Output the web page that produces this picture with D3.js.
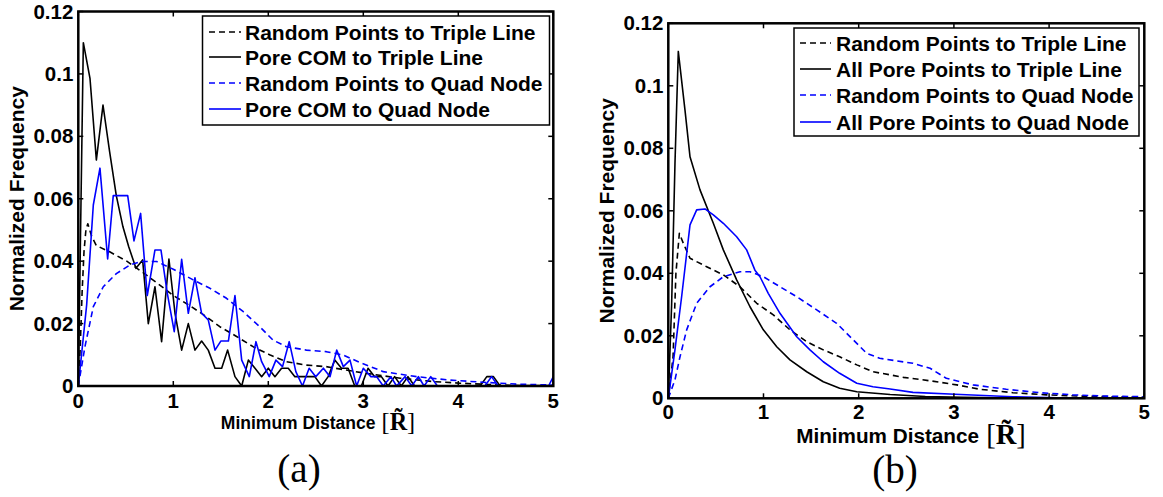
<!DOCTYPE html>
<html>
<head>
<meta charset="utf-8">
<script src="https://cdn.jsdelivr.net/npm/d3@7"></script>
<style>
  html, body { margin: 0; padding: 0; background: #fff; }
  svg { display: block; }
</style>
</head>
<body>
<svg id="fig" width="1163" height="497"></svg>
<script>
// ---- tick labels ----
const xTicks = [0, 1, 2, 3, 4, 5];
const yTicks = [0, 0.02, 0.04, 0.06, 0.08, 0.1, 0.12];
const yTickLabels = ["0", "0.02", "0.04", "0.06", "0.08", "0.1", "0.12"];

// ---- panel (a): pore centres of mass ----
const aTripleRandomX = [0, 0.02, 0.04, 0.06, 0.08, 0.1, 0.14, 0.19, 0.33, 0.51, 0.67, 0.83, 1.0, 1.16, 1.32, 1.49, 1.67, 1.84, 2.02, 2.19, 2.4, 2.61, 2.82, 3.04, 3.39, 3.74, 4.02, 4.3, 4.58, 5.0];
const aTripleRandomY = [0, 0.012, 0.03, 0.043, 0.05, 0.052, 0.048, 0.045, 0.043, 0.040, 0.0366, 0.033, 0.029, 0.026, 0.0228, 0.019, 0.0158, 0.0126, 0.0099, 0.0078, 0.0067, 0.0062, 0.0051, 0.004, 0.0025, 0.0014, 0.0009, 0.0005, 0.0002, 0.0001];

const aTripleComX = [0, 0.053, 0.123, 0.19, 0.26, 0.33, 0.40, 0.47, 0.53, 0.607, 0.677, 0.737, 0.807, 0.877, 0.954, 1.018, 1.088, 1.158, 1.228, 1.298, 1.368, 1.439, 1.509, 1.572, 1.649, 1.72, 1.79, 1.86, 1.93, 2.0, 2.07, 2.14, 2.21, 2.28, 2.35, 2.42, 2.49, 2.56, 2.63, 2.70, 2.77, 2.84, 2.91, 2.98, 3.05, 3.12, 3.19, 3.26, 3.33, 3.40, 3.47, 3.54, 4.23, 4.30, 4.37, 4.44, 5.0];
const aTripleComY = [0, 0.110, 0.0986, 0.0724, 0.090, 0.075, 0.061, 0.051, 0.0447, 0.0377, 0.0404, 0.020, 0.0318, 0.0142, 0.0407, 0.0233, 0.0115, 0.020, 0.0115, 0.0144, 0.0115, 0.0057, 0.0057, 0.0115, 0.003, 0, 0.0083, 0.0057, 0.003, 0.0057, 0.003, 0.0057, 0.0057, 0.003, 0.003, 0.003, 0.003, 0, 0.003, 0.0083, 0.0057, 0.0057, 0, 0, 0.0057, 0.003, 0.003, 0, 0.003, 0, 0.003, 0, 0, 0.003, 0.003, 0, 0];

const aQuadRandomX = [0, 0.07, 0.158, 0.263, 0.40, 0.544, 0.667, 0.825, 1.0, 1.21, 1.386, 1.56, 1.737, 1.91, 2.05, 2.19, 2.40, 2.61, 2.79, 2.96, 3.21, 3.56, 3.91, 4.26, 4.61, 5.0];
const aQuadRandomY = [0, 0.0126, 0.0254, 0.0318, 0.036, 0.0388, 0.0399, 0.0399, 0.0374, 0.034, 0.0313, 0.0281, 0.0238, 0.019, 0.0147, 0.0126, 0.0115, 0.011, 0.0099, 0.0076, 0.0046, 0.003, 0.0019, 0.0012, 0.0006, 0.0003];

const aQuadComX = [0, 0.088, 0.158, 0.228, 0.309, 0.368, 0.438, 0.52, 0.586, 0.656, 0.726, 0.807, 0.87, 0.937, 1.01, 1.088, 1.158, 1.228, 1.298, 1.368, 1.439, 1.50, 1.58, 1.649, 1.72, 1.8, 1.87, 1.93, 2.01, 2.08, 2.15, 2.22, 2.29, 2.36, 2.43, 2.50, 2.58, 2.65, 2.72, 2.79, 2.86, 2.93, 3.0, 3.08, 3.14, 3.21, 3.29, 3.35, 3.44, 3.51, 3.58, 3.64, 3.71, 3.78, 4.28, 4.35, 4.42, 4.95, 5.0];
const aQuadComY = [0, 0.026, 0.058, 0.0698, 0.0407, 0.061, 0.061, 0.061, 0.0465, 0.0553, 0.029, 0.0436, 0.0436, 0.0297, 0.0174, 0.0406, 0.0233, 0.0347, 0.0233, 0.0212, 0.0115, 0.0144, 0.0144, 0.029, 0.0083, 0.003, 0.0142, 0.0078, 0.003, 0.0083, 0.0062, 0.0142, 0.0046, 0, 0.0057, 0.003, 0.0057, 0.003, 0.0115, 0.0062, 0.0083, 0, 0.0057, 0.003, 0.003, 0, 0.003, 0, 0.003, 0, 0.003, 0, 0.003, 0, 0, 0.003, 0, 0, 0.003];

// ---- panel (b): all pore points ----
const bTripleRandomX = [0, 0.05, 0.08, 0.116, 0.158, 0.228, 0.403, 0.578, 0.753, 0.929, 1.103, 1.278, 1.454, 1.628, 1.80, 1.98, 2.15, 2.33, 2.47, 2.75, 3.03, 3.27, 3.62, 3.97, 4.32, 4.67, 5.0];
const bTripleRandomY = [0, 0.0133, 0.040, 0.0528, 0.0496, 0.0448, 0.0421, 0.0395, 0.0357, 0.0304, 0.0267, 0.0219, 0.0181, 0.0155, 0.0133, 0.0107, 0.0085, 0.0075, 0.0067, 0.0056, 0.0043, 0.0029, 0.0018, 0.0011, 0.0007, 0.0005, 0.0003];

const bTripleAllX = [0, 0.035, 0.07, 0.105, 0.175, 0.228, 0.333, 0.473, 0.578, 0.718, 0.858, 0.998, 1.139, 1.278, 1.454, 1.628, 1.80, 1.98, 2.33, 2.7, 3.1, 3.6, 4.2, 5.0];
const bTripleAllY = [0, 0.03, 0.075, 0.111, 0.0923, 0.0773, 0.0667, 0.056, 0.0475, 0.0379, 0.0293, 0.0219, 0.0165, 0.0123, 0.0085, 0.0053, 0.0032, 0.0021, 0.0012, 0.0006, 0.0003, 0.0001, 0, 0];

const bQuadRandomX = [0, 0.07, 0.123, 0.193, 0.298, 0.438, 0.578, 0.753, 0.858, 0.998, 1.173, 1.349, 1.559, 1.768, 1.943, 2.084, 2.22, 2.57, 2.75, 2.92, 3.20, 3.55, 3.90, 4.25, 4.6, 5.0];
const bQuadRandomY = [0, 0.0059, 0.0133, 0.0219, 0.0304, 0.0357, 0.0389, 0.0405, 0.0405, 0.0389, 0.0357, 0.0325, 0.0283, 0.024, 0.0187, 0.0144, 0.0128, 0.0112, 0.0096, 0.0064, 0.0043, 0.0029, 0.0018, 0.0011, 0.0007, 0.0005];

const bQuadAllX = [0, 0.07, 0.14, 0.228, 0.298, 0.385, 0.473, 0.578, 0.718, 0.823, 0.91, 0.963, 1.05, 1.173, 1.349, 1.488, 1.628, 1.80, 1.98, 2.15, 2.33, 2.57, 3.01, 3.62, 4.2, 5.0];
const bQuadAllY = [0, 0.0155, 0.0325, 0.0555, 0.0603, 0.0606, 0.0587, 0.056, 0.0517, 0.0475, 0.041, 0.0389, 0.0336, 0.0272, 0.0197, 0.0155, 0.0117, 0.008, 0.0048, 0.0037, 0.003, 0.0019, 0.0013, 0.0005, 0.0001, 0];

const aLegend = ["Random Points to Triple Line", "Pore COM to Triple Line", "Random Points to Quad Node", "Pore COM to Quad Node"];
const bLegend = ["Random Points to Triple Line", "All Pore Points to Triple Line", "Random Points to Quad Node", "All Pore Points to Quad Node"];

const BLUE = "#0000ff";
const DASH = "6,4";
const SANS = "'Liberation Sans', Arial, sans-serif";
const SERIF = "'Liberation Serif', 'Times New Roman', serif";

const zip = (xs, ys) => xs.map((x, i) => [x, ys[i]]);

const svg = d3.select("#fig");

// bold sans label helper
function label(sel, size) {
  return sel.append("text")
    .attr("font-family", SANS).attr("font-weight", "bold")
    .attr("font-size", size).attr("fill", "#000");
}

function drawPanel(p) {
  const x = d3.scaleLinear().domain([0, 5]).range([p.left, p.right]);
  const y = d3.scaleLinear().domain([0, 0.12]).range([p.bottom, p.top]);
  const g = svg.append("g");

  const clipId = "clip-" + p.tag;
  g.append("clipPath").attr("id", clipId).append("rect")
    .attr("x", p.left - 1).attr("y", p.top).attr("width", p.right - p.left + 2).attr("height", p.bottom - p.top + 1);

  const line = d3.line().x(d => x(d[0])).y(d => y(d[1]));
  const plot = g.append("g").attr("clip-path", `url(#${clipId})`);
  p.series.forEach(s => {
    plot.append("path")
      .datum(zip(s.xs, s.ys))
      .attr("d", line)
      .attr("fill", "none")
      .attr("stroke", s.color)
      .attr("stroke-width", 1.6)
      .attr("stroke-linejoin", "round")
      .attr("stroke-dasharray", s.dashed ? DASH : null);
  });

  // ticks on all four sides, pointing inward
  const tl = 5;
  const tg = g.append("g").attr("stroke", "#000").attr("stroke-width", 1.5);
  xTicks.forEach(t => {
    tg.append("line").attr("x1", x(t)).attr("x2", x(t)).attr("y1", p.bottom).attr("y2", p.bottom - tl);
    tg.append("line").attr("x1", x(t)).attr("x2", x(t)).attr("y1", p.top).attr("y2", p.top + tl);
  });
  yTicks.forEach(t => {
    tg.append("line").attr("y1", y(t)).attr("y2", y(t)).attr("x1", p.left).attr("x2", p.left + tl);
    tg.append("line").attr("y1", y(t)).attr("y2", y(t)).attr("x1", p.right).attr("x2", p.right - tl);
  });

  // frame
  g.append("rect")
    .attr("x", p.left).attr("y", p.top)
    .attr("width", p.right - p.left).attr("height", p.bottom - p.top)
    .attr("fill", "none").attr("stroke", "#000").attr("stroke-width", 2.5);

  // tick labels
  xTicks.forEach(t => {
    label(g, 20.5).attr("x", x(t)).attr("y", p.bottom + p.xTickDy)
      .attr("text-anchor", "middle").text(t);
  });
  yTicks.forEach((t, i) => {
    label(g, 20.5).attr("x", p.left - 5).attr("y", y(t) + 7)
      .attr("text-anchor", "end").text(yTickLabels[i]);
  });

  // axis titles
  label(g, 21)
    .attr("transform", `translate(${p.yLabelX},${(p.top + p.bottom) / 2}) rotate(-90)`)
    .attr("text-anchor", "middle").text("Normalized Frequency");

  // x title: bold sans words followed by the serif unit [R~]
  const words = label(g, p.xLabelSize).attr("y", p.xLabelY).text("Minimum Distance");
  const bracketSize = p.xLabelSize * 1.38;
  const unit = g.append("text").attr("y", p.unitY)
    .attr("font-family", SERIF).attr("font-size", bracketSize).attr("fill", "#000");
  unit.append("tspan").attr("font-weight", "normal").text("[");
  unit.append("tspan").attr("font-weight", "bold").text("R\u0303");
  unit.append("tspan").attr("font-weight", "normal").text("]");
  const w1 = words.node().getComputedTextLength();
  const w2 = unit.node().getComputedTextLength();
  const gap = p.xLabelSize * 0.35;
  const x0 = p.xLabelX - (w1 + gap + w2) / 2;
  words.attr("x", x0);
  unit.attr("x", x0 + w1 + gap);

  // sub-figure caption
  g.append("text").attr("x", p.capX).attr("y", p.capY)
    .attr("text-anchor", "middle").attr("font-family", SERIF)
    .attr("font-weight", "normal").attr("font-size", 39).attr("fill", "#000").text(p.caption);

  // legend
  const L = p.legend;
  g.append("rect").attr("x", L.x0).attr("y", L.y0).attr("width", L.x1 - L.x0).attr("height", L.y1 - L.y0)
    .attr("fill", "#fff").attr("stroke", "#000").attr("stroke-width", 1.5);
  p.series.forEach((s, i) => {
    const cy = L.rows[i];
    g.append("line").attr("x1", L.lx0).attr("x2", L.lx1).attr("y1", cy).attr("y2", cy)
      .attr("stroke", s.color).attr("stroke-width", 1.6)
      .attr("stroke-dasharray", s.dashed ? DASH : null);
    label(g, 21).attr("x", L.tx).attr("y", cy + 7.5).text(p.labels[i]);
  });
}

drawPanel({
  tag: "a", left: 78.3, right: 553.3, top: 11.5, bottom: 386,
  xTickDy: 22, yLabelX: 24, xLabelX: 318, xLabelY: 429, unitY: 430, xLabelSize: 17.5,
  capX: 299, capY: 482, caption: "(a)",
  labels: aLegend,
  legend: { x0: 202.5, x1: 549.5, y0: 16, y1: 125, rows: [32, 57, 83, 109], lx0: 209, lx1: 241, tx: 245 },
  series: [
    { xs: aTripleRandomX, ys: aTripleRandomY, color: "#000", dashed: true },
    { xs: aTripleComX, ys: aTripleComY, color: "#000", dashed: false },
    { xs: aQuadRandomX, ys: aQuadRandomY, color: BLUE, dashed: true },
    { xs: aQuadComX, ys: aQuadComY, color: BLUE, dashed: false }
  ]
});

drawPanel({
  tag: "b", left: 668.3, right: 1144.3, top: 23.3, bottom: 398.3,
  xTickDy: 21, yLabelX: 614, xLabelX: 911, xLabelY: 442.5, unitY: 444, xLabelSize: 20.7,
  capX: 895, capY: 483, caption: "(b)",
  labels: bLegend,
  legend: { x0: 794, x1: 1139, y0: 28, y1: 136, rows: [43, 69, 95, 122], lx0: 800, lx1: 831, tx: 836 },
  series: [
    { xs: bTripleRandomX, ys: bTripleRandomY, color: "#000", dashed: true },
    { xs: bTripleAllX, ys: bTripleAllY, color: "#000", dashed: false },
    { xs: bQuadRandomX, ys: bQuadRandomY, color: BLUE, dashed: true },
    { xs: bQuadAllX, ys: bQuadAllY, color: BLUE, dashed: false }
  ]
});
</script>
</body>
</html>
